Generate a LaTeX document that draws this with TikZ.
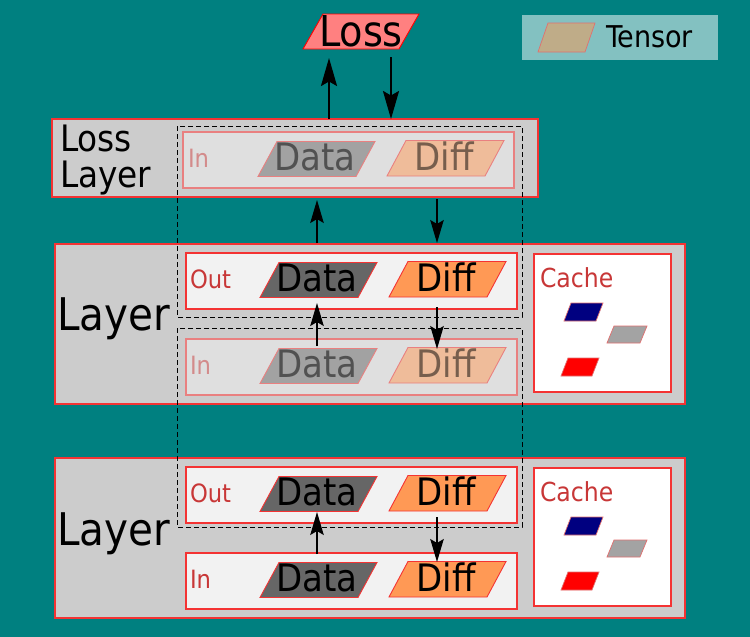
\documentclass[tikz,border=0pt]{standalone}
\usepackage{fontspec}
\setmainfont{DejaVu Sans Condensed}
\usetikzlibrary{arrows.meta}
\definecolor{bgteal}{HTML}{008080}
\definecolor{legfill}{HTML}{83C1C1}
\definecolor{tensfill}{HTML}{BFAC88}
\definecolor{lossfill}{HTML}{FF8080}
\definecolor{laygray}{HTML}{CCCCCC}
\definecolor{boxfill}{HTML}{F2F2F2}
\definecolor{fboxfill}{HTML}{DFDFDF}
\definecolor{datafill}{HTML}{666666}
\definecolor{difffill}{HTML}{FF9955}
\definecolor{fdatafill}{HTML}{A2A2A2}
\definecolor{fdifffill}{HTML}{EFBC9A}
\definecolor{fdatatext}{HTML}{515151}
\definecolor{fdifftext}{HTML}{775E4D}
\definecolor{lblred}{HTML}{C83737}
\definecolor{flblred}{HTML}{D38B8B}
\definecolor{bred}{HTML}{F43333}
\definecolor{fbred}{HTML}{E98080}
\definecolor{pinkline}{HTML}{E07070}
\tikzset{
  layerbox/.style={fill=laygray, draw=bred, line width=1.1pt},
  tbox/.style={fill=boxfill, draw=bred, line width=1.1pt},
  fbox/.style={fill=fboxfill, draw=fbred, line width=1.1pt},
  cachebox/.style={fill=white, draw=bred, line width=1.3pt},
  dashbox/.style={draw=black, dash pattern=on 5pt off 3pt, line width=1pt},
  dpara/.style={fill=datafill, draw=bred, line width=0.9pt},
  ipara/.style={fill=difffill, draw=bred, line width=0.9pt},
  fdpara/.style={fill=fdatafill, draw=fbred, line width=0.9pt},
  fipara/.style={fill=fdifffill, draw=fbred, line width=0.9pt},
  txt/.style={inner sep=0pt, outer sep=0pt},
  big/.style={txt, font=\fontsize{37.8}{40}\selectfont},
  lbl/.style={txt, anchor=base west, font=\fontsize{25.2}{28}\selectfont},
  arr/.style={line width=1.4pt, -{Stealth[length=23pt, width=13.5pt, inset=4pt]}},
  bigarr/.style={line width=2pt, -{Stealth[length=28pt, width=16pt, inset=4.5pt]}},
}
\newcommand\tpara[7]{%
  \path[#7] (#2+#6,#3) -- (#2+#4,#3) -- (#2+#4-#6,#3+#5) -- (#2,#3+#5) -- cycle;
  \coordinate (#1) at (#2+#4/2,#3+#5/2);}
\newcommand\tpair[5]{% #1 prefix, #2 X offset, #3 box top, #4 data style, #5 diff style
  \tpara{#1d}{260+#2}{#3+9.5}{117}{35}{19}{#4}
  \tpara{#1f}{389+#2}{#3+8.5}{117}{35.5}{19}{#5}
}
\begin{document}
\begin{tikzpicture}[x=1pt, y=-1pt]
\useasboundingbox (0,0) rectangle (750,637);
\fill[bgteal] (0,0) rectangle (750,637);

% legend
\fill[legfill] (522,15) rectangle (718,60);
\tpara{legp}{538}{23}{57}{29}{10}{fill=tensfill, draw=pinkline, line width=0.7pt}
\node[txt, anchor=base west, font=\fontsize{30}{32}\selectfont] (legt) at (606,47) {Tensor};

% Loss
\tpara{lossp}{303}{14}{116}{35}{20}{fill=lossfill, draw=red, line width=0.9pt}
\node[txt, anchor=base, font=\fontsize{42.5}{44}\selectfont] (losst) at (361,46.7) {Loss};

% Loss layer
\path[layerbox] (52,119) rectangle (538,197);
\node[txt, anchor=base west, font=\fontsize{36.4}{36}\selectfont] (ll1) at (60,151) {Loss};
\node[txt, anchor=base west, font=\fontsize{36.4}{36}\selectfont] (ll2) at (60,187) {Layer};
\path[fbox] (183,132) rectangle (514,188);
\node[lbl, text=flblred] (llin) at (188,167) {In};
\tpair{ll}{-2}{132}{fdpara}{fipara}
\node[big, anchor=base, text=fdatatext] (lldt) at (315,170) {Data};
\node[big, anchor=base, text=fdifftext] (llft) at (444,170) {Diff};

% Layer 1
\path[layerbox] (55,244) rectangle (685,404);
\node[txt, anchor=base west, font=\fontsize{45}{46}\selectfont] (l1t) at (57,330) {Layer};
\path[tbox] (186,253) rectangle (517,309);
\node[lbl, text=lblred] (l1out) at (190,288) {Out};
\tpair{o1}{0}{253}{dpara}{ipara}
\node[big, anchor=base] (o1dt) at (317,291.5) {Data};
\node[big, anchor=base] (o1ft) at (446,291.5) {Diff};
\path[fbox] (186,339) rectangle (517,395);
\node[lbl, text=flblred] (l1in) at (190,374) {In};
\tpair{i1}{0}{339}{fdpara}{fipara}
\node[big, anchor=base, text=fdatatext] (i1dt) at (317,377.5) {Data};
\node[big, anchor=base, text=fdifftext] (i1ft) at (446,377.5) {Diff};
\path[cachebox] (534,254) rectangle (671,392);
\node[txt, anchor=base west, text=lblred, font=\fontsize{26.2}{28}\selectfont] (c1t) at (540,287.5) {Cache};
\tpara{c1b}{564}{303}{39}{18}{7}{fill=blue!50!black, draw=pinkline, line width=0.7pt}
\tpara{c1g}{607}{326}{40}{17}{7}{fill=datafill!60!white, draw=pinkline, line width=0.7pt}
\tpara{c1r}{561}{358}{38}{18}{7}{fill=red, draw=pinkline, line width=0.7pt}

% Layer 2
\path[layerbox] (55,458) rectangle (685,618);
\node[txt, anchor=base west, font=\fontsize{45}{46}\selectfont] (l2t) at (57,545) {Layer};
\path[tbox] (186,467) rectangle (517,523);
\node[lbl, text=lblred] (l2out) at (190,502) {Out};
\tpair{o2}{0}{467}{dpara}{ipara}
\node[big, anchor=base] (o2dt) at (317,505.5) {Data};
\node[big, anchor=base] (o2ft) at (446,505.5) {Diff};
\path[tbox] (186,553) rectangle (517,609);
\node[lbl, text=lblred] (l2in) at (190,588) {In};
\tpair{i2}{0}{553}{dpara}{ipara}
\node[big, anchor=base] (i2dt) at (317,591.5) {Data};
\node[big, anchor=base] (i2ft) at (446,591.5) {Diff};
\path[cachebox] (534,468) rectangle (671,606);
\node[txt, anchor=base west, text=lblred, font=\fontsize{26.2}{28}\selectfont] (c2t) at (540,501.5) {Cache};
\tpara{c2b}{564}{517}{39}{18}{7}{fill=blue!50!black, draw=pinkline, line width=0.7pt}
\tpara{c2g}{607}{540}{40}{17}{7}{fill=datafill!60!white, draw=pinkline, line width=0.7pt}
\tpara{c2r}{561}{572}{38}{18}{7}{fill=red, draw=pinkline, line width=0.7pt}

% dashed boxes (shared tensors)
\draw[dashbox] (177,126) rectangle (522,317);
\draw[dashbox] (177,328) rectangle (522,527);

% arrow end points
\coordinate (a1s) at (329,119); \coordinate (a1e) at (329,58);
\coordinate (a2s) at (391,57);  \coordinate (a2e) at (391,119);
\coordinate (a3s) at (317,243); \coordinate (a3e) at (317,200);
\coordinate (a4s) at (437,199); \coordinate (a4e) at (437,243);
\coordinate (a5s) at (317,346); \coordinate (a5e) at (317,303);
\coordinate (a6s) at (437,307); \coordinate (a6e) at (437,349);
\coordinate (a7s) at (317,554); \coordinate (a7e) at (317,512);
\coordinate (a8s) at (437,517); \coordinate (a8e) at (437,562);
\draw[bigarr] (a1s) -- (a1e);
\draw[bigarr] (a2s) -- (a2e);
\draw[arr] (a3s) -- (a3e);
\draw[arr] (a4s) -- (a4e);
\draw[arr] (a5s) -- (a5e);
\draw[arr] (a6s) -- (a6e);
\draw[arr] (a7s) -- (a7e);
\draw[arr] (a8s) -- (a8e);
\end{tikzpicture}
\end{document}
